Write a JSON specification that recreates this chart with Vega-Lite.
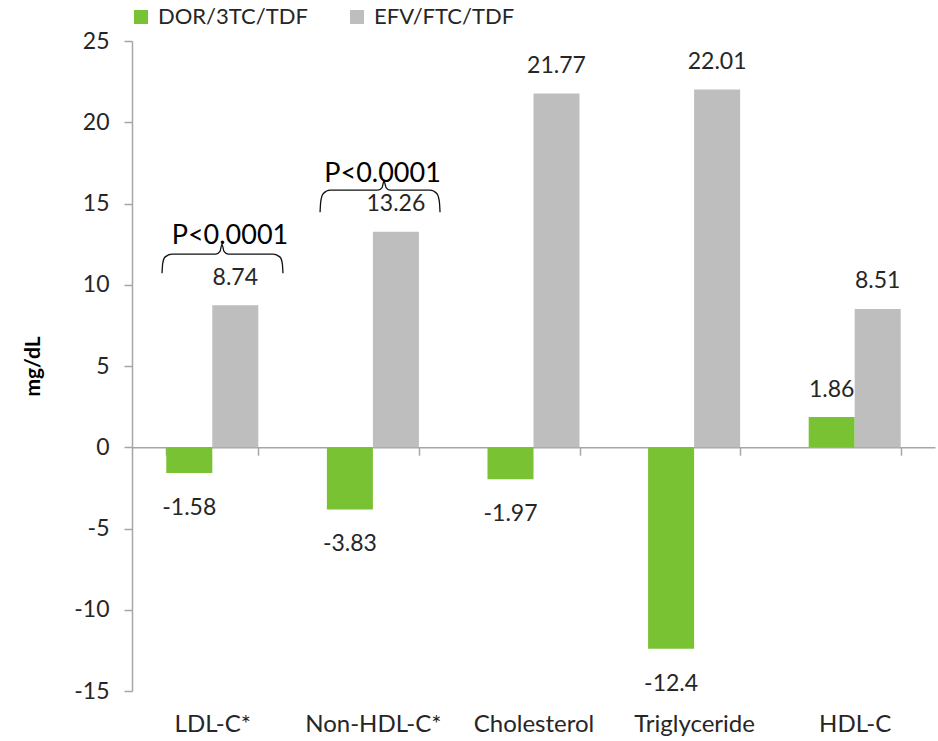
{
  "$schema": "https://vega.github.io/schema/vega-lite/v6.json",
  "width": 803,
  "height": 650,
  "autosize": {"type": "none"},
  "padding": {"left": 132, "top": 41, "right": 3, "bottom": 50},
  "config": {"font": "Lato", "view": {"stroke": null}, "axis": {"grid": false}},
  "datasets": {
    "bars": [
      {"lipid": "LDL-C*", "regimen": "DOR/3TC/TDF", "value": -1.58},
      {"lipid": "LDL-C*", "regimen": "EFV/FTC/TDF", "value": 8.74},
      {"lipid": "Non-HDL-C*", "regimen": "DOR/3TC/TDF", "value": -3.83},
      {"lipid": "Non-HDL-C*", "regimen": "EFV/FTC/TDF", "value": 13.26},
      {"lipid": "Cholesterol", "regimen": "DOR/3TC/TDF", "value": -1.97},
      {"lipid": "Cholesterol", "regimen": "EFV/FTC/TDF", "value": 21.77},
      {"lipid": "Triglyceride", "regimen": "DOR/3TC/TDF", "value": -12.4},
      {"lipid": "Triglyceride", "regimen": "EFV/FTC/TDF", "value": 22.01},
      {"lipid": "HDL-C", "regimen": "DOR/3TC/TDF", "value": 1.86},
      {"lipid": "HDL-C", "regimen": "EFV/FTC/TDF", "value": 8.51}
    ],
    "brace": [
      {"brace": "LDL", "i": 1, "pos": 0.187, "value": 10.71},
      {"brace": "LDL", "i": 2, "pos": 0.191, "value": 11.3},
      {"brace": "LDL", "i": 3, "pos": 0.205, "value": 11.7},
      {"brace": "LDL", "i": 4, "pos": 0.249, "value": 11.88},
      {"brace": "LDL", "i": 5, "pos": 0.523, "value": 11.88},
      {"brace": "LDL", "i": 6, "pos": 0.548, "value": 12.05},
      {"brace": "LDL", "i": 7, "pos": 0.56, "value": 12.49},
      {"brace": "LDL", "i": 8, "pos": 0.573, "value": 12.05},
      {"brace": "LDL", "i": 9, "pos": 0.598, "value": 11.88},
      {"brace": "LDL", "i": 10, "pos": 0.878, "value": 11.88},
      {"brace": "LDL", "i": 11, "pos": 0.922, "value": 11.7},
      {"brace": "LDL", "i": 12, "pos": 0.936, "value": 11.3},
      {"brace": "LDL", "i": 13, "pos": 0.94, "value": 10.71},
      {"brace": "NonHDL", "i": 1, "pos": 1.171, "value": 14.46},
      {"brace": "NonHDL", "i": 2, "pos": 1.175, "value": 15.1},
      {"brace": "NonHDL", "i": 3, "pos": 1.19, "value": 15.6},
      {"brace": "NonHDL", "i": 4, "pos": 1.233, "value": 15.82},
      {"brace": "NonHDL", "i": 5, "pos": 1.532, "value": 15.82},
      {"brace": "NonHDL", "i": 6, "pos": 1.557, "value": 15.98},
      {"brace": "NonHDL", "i": 7, "pos": 1.569, "value": 16.37},
      {"brace": "NonHDL", "i": 8, "pos": 1.582, "value": 15.98},
      {"brace": "NonHDL", "i": 9, "pos": 1.606, "value": 15.82},
      {"brace": "NonHDL", "i": 10, "pos": 1.856, "value": 15.82},
      {"brace": "NonHDL", "i": 11, "pos": 1.899, "value": 15.6},
      {"brace": "NonHDL", "i": 12, "pos": 1.914, "value": 15.1},
      {"brace": "NonHDL", "i": 13, "pos": 1.918, "value": 14.46}
    ],
    "ptext": [
      {"pos": 0.61, "value": 12.98, "label": "P<0.0001"},
      {"pos": 1.56, "value": 16.8, "label": "P<0.0001"}
    ]
  },
  "encoding": {
    "y": {
      "field": "value",
      "type": "quantitative",
      "scale": {"domain": [-15, 25], "nice": false, "zero": false},
      "axis": {
        "title": "mg/dL",
        "titleFontSize": 21,
        "titleFontWeight": "bold",
        "titleColor": "#000000",
        "titlePadding": 30,
        "values": [-15, -10, -5, 0, 5, 10, 15, 20, 25],
        "labelExpr": "datum.value < 0 ? '-' + abs(datum.value) : '' + datum.value",
        "labelFontSize": 23,
        "labelColor": "#262626",
        "labelPadding": 15,
        "tickSize": 8,
        "tickColor": "#A6A6A6",
        "tickWidth": 1.5,
        "domainColor": "#A6A6A6",
        "domainWidth": 1.5
      }
    }
  },
  "layer": [
    {
      "data": {"name": "bars"},
      "encoding": {
        "x": {
          "field": "lipid",
          "type": "nominal",
          "sort": ["LDL-C*", "Non-HDL-C*", "Cholesterol", "Triglyceride", "HDL-C"],
          "scale": {"paddingInner": 0.427, "paddingOuter": 0.2135},
          "axis": {
            "title": null,
            "orient": "bottom",
            "offset": -243.75,
            "domainColor": "#A6A6A6",
            "domainWidth": 1.5,
            "tickColor": "#A6A6A6",
            "tickWidth": 1.5,
            "tickSize": 8,
            "tickBand": "extent",
            "labelFontSize": 24,
            "labelColor": "#262626",
            "labelPadding": 257,
            "labelAngle": 0
          }
        },
        "xOffset": {
          "field": "regimen",
          "type": "nominal",
          "sort": ["DOR/3TC/TDF", "EFV/FTC/TDF"],
          "scale": {"paddingInner": 0, "paddingOuter": 0}
        }
      },
      "layer": [
        {
          "mark": {"type": "bar"},
          "encoding": {
            "color": {
              "field": "regimen",
              "type": "nominal",
              "scale": {"domain": ["DOR/3TC/TDF", "EFV/FTC/TDF"], "range": ["#79C234", "#BEBEBE"]},
              "legend": {
                "orient": "none",
                "legendX": -2,
                "legendY": -35,
                "direction": "horizontal",
                "title": null,
                "padding": 0,
                "symbolType": "square",
                "symbolSize": 196,
                "symbolStrokeWidth": 0,
                "labelFontSize": 22,
                "labelColor": "#262626",
                "labelOffset": 6,
                "columnPadding": 38
              }
            }
          }
        },
        {
          "transform": [{"filter": "datum.value > 0"}],
          "mark": {"type": "text", "baseline": "middle", "align": "center", "dy": -27.5, "fontSize": 23, "color": "#262626"},
          "encoding": {"text": {"field": "value", "type": "nominal"}}
        },
        {
          "transform": [{"filter": "datum.value < 0"}],
          "mark": {"type": "text", "baseline": "middle", "align": "center", "dy": 35, "fontSize": 23, "color": "#262626"},
          "encoding": {"text": {"field": "value", "type": "nominal"}}
        }
      ]
    },
    {
      "encoding": {
        "x": {
          "field": "pos",
          "type": "quantitative",
          "scale": {"domain": [0, 5], "nice": false, "zero": false},
          "axis": null
        }
      },
      "layer": [
        {
          "data": {"name": "brace"},
          "mark": {"type": "line", "color": "#111111", "strokeWidth": 1.3, "interpolate": "monotone"},
          "encoding": {
            "detail": {"field": "brace", "type": "nominal"},
            "order": {"field": "i", "type": "quantitative"}
          }
        },
        {
          "data": {"name": "ptext"},
          "mark": {"type": "text", "baseline": "middle", "align": "center", "fontSize": 27, "color": "#000000"},
          "encoding": {"text": {"field": "label", "type": "nominal"}}
        }
      ]
    }
  ],
  "resolve": {"scale": {"x": "independent"}}
}
